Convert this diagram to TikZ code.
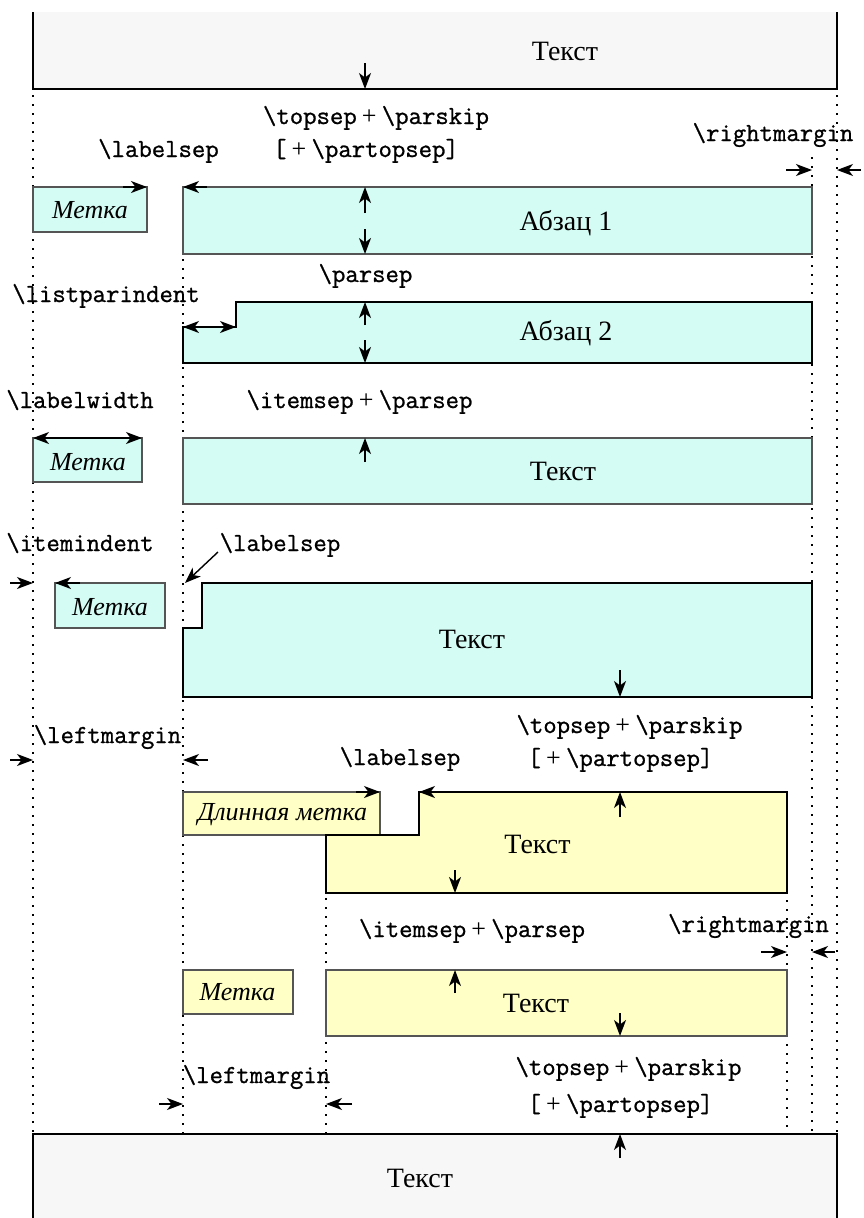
\documentclass[tikz,border=0pt]{standalone}
\usepackage{fontspec}
\setmainfont{Liberation Serif}
\setmonofont{Latin Modern Mono}[FakeBold=0.9]
\usetikzlibrary{arrows.meta}
\definecolor{cyanfill}{HTML}{D4FCF4}
\definecolor{yelfill}{HTML}{FFFFC6}
\definecolor{grayfill}{HTML}{F7F7F7}
\definecolor{edgegray}{HTML}{555555}
\newcommand\bs{\textbackslash}
\newcommand\tplus{{\rmfamily\hspace{0.2em}+\hspace{0.2em}}}
\begin{document}
\begin{tikzpicture}[x=1pt,y=-1pt,
  every node/.style={inner sep=0pt, outer sep=0pt},
  txt/.style={font=\fontsize{28}{32}\selectfont, anchor=base},
  tt/.style={font=\fontsize{26}{30}\selectfont\ttfamily, anchor=base},
  lbl/.style={font=\fontsize{26}{30}\selectfont\itshape, anchor=base},
  graybox/.style={draw=edgegray, line width=2.3pt},
  blackbox/.style={draw=black, line width=2.6pt, line join=miter},
  dotline/.style={line width=1.5pt, dash pattern=on 1.5pt off 7.5pt},
  tip/.tip={Stealth[length=16pt,width=12pt,inset=4.5pt]},
  arr/.style={line width=1.4pt, -tip},
  darr/.style={line width=1.4pt, tip-tip}
]
\useasboundingbox (0,0) rectangle (864,1218);

% dotted guide lines
\draw[dotline] (33,95) -- (33,1134);
\draw[dotline] (183,187) -- (183,1134);
\draw[dotline] (326,835) -- (326,1134);
\draw[dotline] (787,792) -- (787,1134);
\draw[dotline] (812,157) -- (812,1134);
\draw[dotline] (837,95) -- (837,1134);

% top box
\fill[grayfill] (33,12) rectangle (837,89);
\draw[blackbox] (33,12) -- (33,89) -- (837,89) -- (837,12);
\node[txt] (toptext) at (565,60) {Текст};
\draw[arr] (365,63) -- (365,89);

% row 1
\node[tt] (ls1) at (158.5,157) {\bs labelsep};
\node[tt] (ts1) at (376,124) {\bs topsep\tplus\bs parskip};
\node[tt] (pt1) at (366,157) {[\tplus\bs partopsep]};
\node[tt] (rm1) at (773,141) {\bs rightmargin};
\filldraw[graybox, fill=cyanfill] (33,187) rectangle (147,232);
\node[lbl] (m1) at (90,218) {Метка};
\filldraw[graybox, fill=cyanfill] (183,187) rectangle (812,254);
\node[txt] (p1) at (566,230) {Абзац 1};
\draw[arr] (123,187) -- (147,187);
\draw[arr] (207,187) -- (183,187);
\draw[arr] (365,213) -- (365,187);
\draw[arr] (365,229) -- (365,254);
\draw[arr] (786,170) -- (812,170);
\draw[arr] (861,170) -- (837,170);

% row 2
\node[tt] (ps2) at (365.5,282) {\bs parsep};
\node[tt] (lpi) at (106,302) {\bs listparindent};
\filldraw[blackbox, fill=cyanfill] (183,327) -- (236,327) -- (236,302) -- (812,302) -- (812,363) -- (183,363) -- cycle;
\node[txt] (p2) at (566,340) {Абзац 2};
\draw[darr] (183,327) -- (236,327);
\draw[arr] (365,325) -- (365,302);
\draw[arr] (365,340) -- (365,363);

% row 3
\node[tt] (lw) at (80,408) {\bs labelwidth};
\node[tt] (is3) at (359.5,408) {\bs itemsep\tplus\bs parsep};
\filldraw[graybox, fill=cyanfill] (33,438) rectangle (142,482);
\node[lbl] (m2) at (88,470) {Метка};
\filldraw[graybox, fill=cyanfill] (183,438) rectangle (812,504);
\node[txt] (t3) at (563,480) {Текст};
\draw[darr] (33,438) -- (142,438);
\draw[arr] (365,462) -- (365,438);

% row 4
\node[tt] (ii) at (80,551) {\bs itemindent};
\node[tt] (ls4) at (280,551) {\bs labelsep};
\filldraw[graybox, fill=cyanfill] (55,583) rectangle (165,628);
\node[lbl] (m3) at (110,615) {Метка};
\filldraw[blackbox, fill=cyanfill] (183,628) -- (202,628) -- (202,583) -- (812,583) -- (812,697) -- (183,697) -- cycle;
\node[txt] (t4) at (472,648) {Текст};
\draw[arr] (10,583) -- (33,583);
\draw[arr] (80,583) -- (55,583);
\draw[arr] (218,552) -- (185,583);
\draw[arr] (620,670) -- (620,697);

% row 5
\node[tt] (ts5) at (629.5,733) {\bs topsep\tplus\bs parskip};
\node[tt] (lm5) at (107.5,743) {\bs leftmargin};
\node[tt] (pt5) at (620.5,766) {[\tplus\bs partopsep]};
\node[tt] (ls5) at (400,765) {\bs labelsep};
\draw[arr] (10,760) -- (33,760);
\draw[arr] (208,760) -- (183,760);

% row 6
\filldraw[graybox, fill=yelfill] (183,792) rectangle (380,835);
\node[lbl] (m5) at (282.5,820) {Длинная метка};
\filldraw[blackbox, fill=yelfill] (326,835) -- (419,835) -- (419,792) -- (787,792) -- (787,893) -- (326,893) -- cycle;
\node[txt] (t6) at (537.5,853) {Текст};
\draw[arr] (356,792) -- (380,792);
\draw[arr] (438,792) -- (419,792);
\draw[arr] (620,817) -- (620,792);
\draw[arr] (455,870) -- (455,893);

% row 7
\node[tt] (is7) at (472,937) {\bs itemsep\tplus\bs parsep};
\node[tt] (rm7) at (748.5,932) {\bs rightmargin};
\draw[arr] (761,952) -- (787,952);
\draw[arr] (835,952) -- (812,952);
\filldraw[graybox, fill=yelfill] (183,970) rectangle (293,1014);
\node[lbl] (m6) at (237.5,1000) {Метка};
\filldraw[graybox, fill=yelfill] (326,970) rectangle (787,1036);
\node[txt] (t7) at (536,1012) {Текст};
\draw[arr] (455,993) -- (455,970);
\draw[arr] (620,1013) -- (620,1036);

% row 8
\node[tt] (lm8) at (256.5,1083) {\bs leftmargin};
\node[tt] (ts8) at (628.5,1075) {\bs topsep\tplus\bs parskip};
\node[tt] (pt8) at (620.5,1112) {[\tplus\bs partopsep]};
\draw[arr] (159,1104) -- (183,1104);
\draw[arr] (352,1104) -- (326,1104);

% bottom box
\fill[grayfill] (33,1134) rectangle (837,1218);
\draw[blackbox] (33,1218) -- (33,1134) -- (837,1134) -- (837,1218);
\node[txt] (bottext) at (420,1187) {Текст};
\draw[arr] (620,1158) -- (620,1134);
\end{tikzpicture}
\end{document}
